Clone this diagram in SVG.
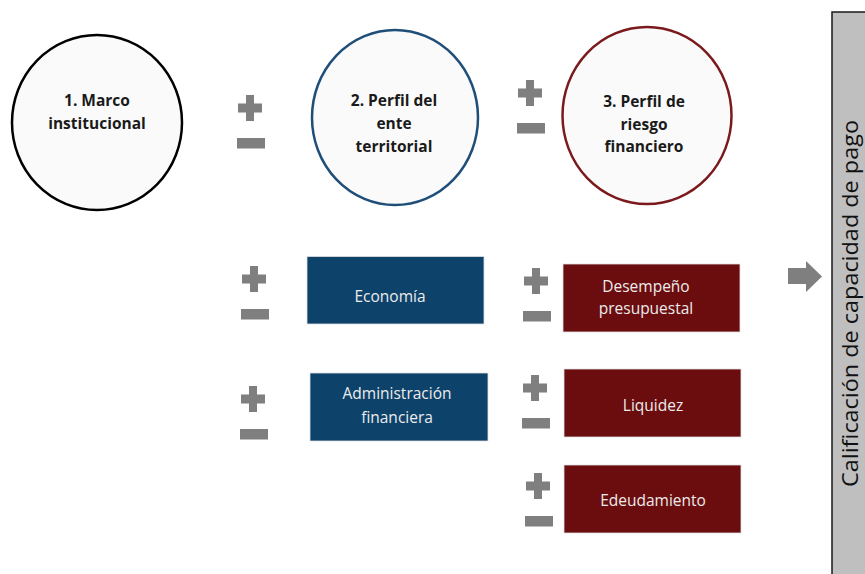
<svg xmlns="http://www.w3.org/2000/svg" xmlns:xlink="http://www.w3.org/1999/xlink" width="865" height="574" viewBox="0 0 865 574">
  <style>
    .circ { fill: #fafafa; stroke-width: 2.5; }
    .ctext { font-family: "Open Sans", "Liberation Sans", sans-serif; font-weight: bold; font-size: 15.5px; fill: #1a1a1a; text-anchor: middle; }
    .btext { font-family: "Open Sans", "Liberation Sans", sans-serif; font-size: 15.5px; fill: #ececec; text-anchor: middle; }
    .blue { fill: #0d426b; stroke: #e0e0e0; stroke-width: 0.8; }
    .red { fill: #6b0d0e; stroke: #e0e0e0; stroke-width: 0.8; }
    .sym { fill: #7f7f7f; }
    .bar { fill: #bfbfbf; stroke: #1a1a1a; stroke-width: 1.5; }
    .vtext { font-family: "Open Sans", "Liberation Sans", sans-serif; font-size: 21px; fill: #111; text-anchor: middle; }
  </style>
  <defs>
    <g id="pm">
      <path class="sym" d="M8,0H16V8.5H24V17.5H16V26H8V17.5H0V8.5H8Z"/>
      <rect class="sym" x="-1" y="43" width="28" height="10.5"/>
    </g>
  </defs>

  <g id="node-marco">
    <ellipse class="circ" cx="97" cy="122.5" rx="85" ry="87.5" stroke="#000"/>
    <text class="ctext" x="97" y="106">1. Marco</text>
    <text class="ctext" x="97" y="128.5">institucional</text>
  </g>
  <g id="node-perfil-ente">
    <ellipse class="circ" cx="395" cy="117.5" rx="83" ry="87.5" stroke="#1f4e79"/>
    <text class="ctext" x="394" y="106">2. Perfil del</text>
    <text class="ctext" x="394" y="129">ente</text>
    <text class="ctext" x="394" y="152">territorial</text>
  </g>
  <g id="node-perfil-riesgo">
    <ellipse class="circ" cx="647" cy="115.5" rx="84.5" ry="88.5" stroke="#7b1a1c"/>
    <text class="ctext" x="644" y="107">3. Perfil de</text>
    <text class="ctext" x="644" y="130">riesgo</text>
    <text class="ctext" x="644" y="152">financiero</text>
  </g>

  <g id="node-economia">
    <rect class="blue" x="307" y="256.5" width="177" height="67.5"/>
    <text class="btext" x="390" y="302">Economía</text>
  </g>
  <g id="node-administracion">
    <rect class="blue" x="310" y="373" width="178" height="68"/>
    <text class="btext" x="397" y="399">Administración</text>
    <text class="btext" x="397" y="422.5">financiera</text>
  </g>
  <g id="node-desempeno">
    <rect class="red" x="563" y="264" width="177" height="68"/>
    <text class="btext" x="646" y="291.5">Desempeño</text>
    <text class="btext" x="646" y="313.5">presupuestal</text>
  </g>
  <g id="node-liquidez">
    <rect class="red" x="564" y="369" width="177" height="68"/>
    <text class="btext" x="653" y="411">Liquidez</text>
  </g>
  <g id="node-endeudamiento">
    <rect class="red" x="564" y="465" width="177" height="68"/>
    <text class="btext" x="653" y="506">Edeudamiento</text>
  </g>

  <g id="node-calificacion">
    <rect class="bar" x="832" y="12" width="40" height="570"/>
    <text class="vtext" transform="translate(858,303.5) rotate(-90)" textLength="367" lengthAdjust="spacingAndGlyphs">Calificación de capacidad de pago</text>
  </g>

  <g id="connectors">
    <use xlink:href="#pm" href="#pm" x="238" y="95"/>
    <use xlink:href="#pm" href="#pm" x="518" y="80"/>
    <use xlink:href="#pm" href="#pm" x="242" y="266"/>
    <use xlink:href="#pm" href="#pm" x="241" y="386"/>
    <use xlink:href="#pm" href="#pm" x="524" y="268"/>
    <use xlink:href="#pm" href="#pm" x="523" y="375"/>
    <use xlink:href="#pm" href="#pm" x="526" y="473"/>
    <polygon class="sym" points="788,268 806,268 806,261 822,276.5 806,292 806,284 788,284"/>
  </g>
</svg>
